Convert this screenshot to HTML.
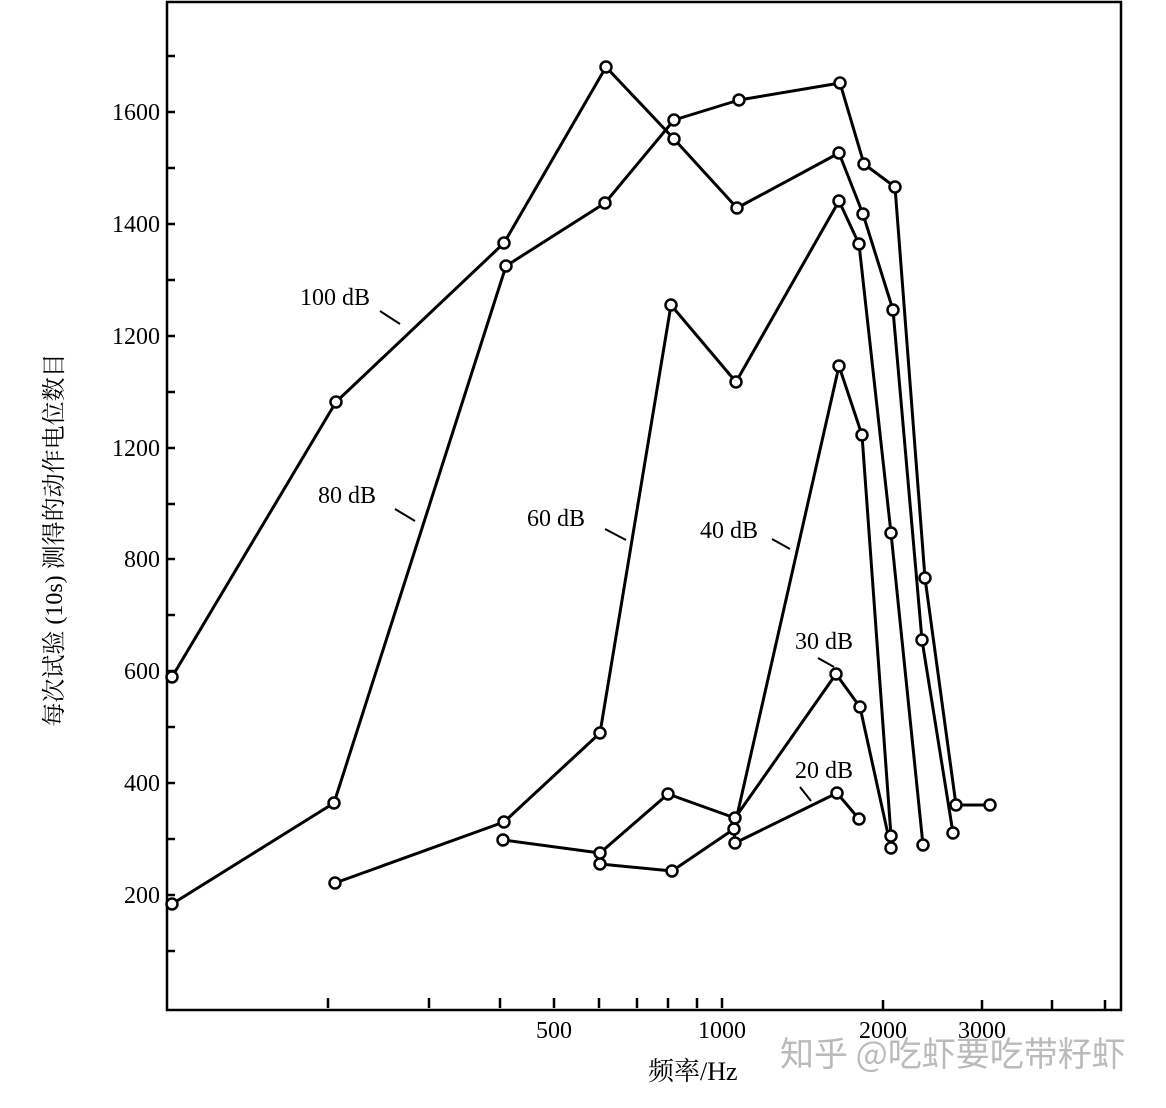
<!DOCTYPE html>
<html><head><meta charset="utf-8"><style>body{margin:0;background:#fff}</style></head><body>
<svg width="1166" height="1103" xmlns="http://www.w3.org/2000/svg" font-family="Liberation Serif, Noto Serif CJK SC, serif">
<rect width="1166" height="1103" fill="#fff"/>
<g stroke="#000" stroke-width="2.5" fill="none">
<path d="M167,2 H1121 V1010 H167 Z"/>
<path d="M167,112h8M167,224h8M167,336h8M167,448h8M167,559h8M167,671h8M167,783h8M167,895h8M167,56h8M167,168h8M167,280h8M167,392h8M167,504h8M167,615h8M167,727h8M167,839h8M167,951h8"/>
<path d="M328,1008v-10M429,1008v-10M500,1008v-10M554,1008v-10M599,1008v-10M637,1008v-10M668,1008v-10M697,1008v-10M722,1008v-10M883,1010v-10M982,1010v-10M1052,1010v-10M1105,1010v-10"/>
</g>
<g font-size="24" text-anchor="end">
<text x="160" y="120">1600</text><text x="160" y="232">1400</text><text x="160" y="344">1200</text><text x="160" y="456">1200</text><text x="160" y="567">800</text><text x="160" y="679">600</text><text x="160" y="791">400</text><text x="160" y="903">200</text>
</g>
<g font-size="24" text-anchor="middle">
<text x="554" y="1038">500</text><text x="722" y="1038">1000</text><text x="883" y="1038">2000</text><text x="982" y="1038">3000</text>
</g>
<text x="648" y="1080" font-size="26">频率/Hz</text>
<text transform="translate(62,540) rotate(-90)" font-size="24" text-anchor="middle">每次试验 (10s) 测得的动作电位数目</text>
<text x="780" y="1066" font-size="34" fill="#bbb" font-family="Noto Sans CJK SC, sans-serif">知乎 @吃虾要吃带籽虾</text>
<g font-size="24">
<text x="300" y="305">100 dB</text><text x="318" y="503">80 dB</text><text x="527" y="526">60 dB</text><text x="700" y="538">40 dB</text><text x="795" y="649">30 dB</text><text x="795" y="778">20 dB</text>
</g>
<g stroke="#000" stroke-width="2" fill="none">
<path d="M380,311l20,13M395,509l20,12M605,529l21,11M772,539l18,10M818,658l16,9M800,787l11,14"/>
</g>
<g stroke="#000" stroke-width="3" fill="none" stroke-linejoin="round">
<polyline points="172,677 336,402 504,243 606,67 674,139 737,208 839,153 863,214 893,310 922,640 953,833"/>
<polyline points="172,904 334,803 506,266 605,203 674,120 739,100 840,83 864,164 895,187 925,578 956,805 990,805"/>
<polyline points="335,883 504,822 600,733 671,305 736,382 839,201 859,244 891,533 923,845"/>
<polyline points="600,864 672,871 734,829 839,366 862,435 891,836"/>
<polyline points="503,840 600,853 668,794 735,818 836,674 860,707 891,848"/>
<polyline points="734,829 735,843 837,793 859,819"/>
</g>
<g stroke="#000" stroke-width="2.5" fill="#fff">
<circle cx="172" cy="677" r="5.5"/><circle cx="336" cy="402" r="5.5"/><circle cx="504" cy="243" r="5.5"/><circle cx="606" cy="67" r="5.5"/><circle cx="674" cy="139" r="5.5"/><circle cx="737" cy="208" r="5.5"/><circle cx="839" cy="153" r="5.5"/><circle cx="863" cy="214" r="5.5"/><circle cx="893" cy="310" r="5.5"/><circle cx="922" cy="640" r="5.5"/><circle cx="953" cy="833" r="5.5"/>
<circle cx="172" cy="904" r="5.5"/><circle cx="334" cy="803" r="5.5"/><circle cx="506" cy="266" r="5.5"/><circle cx="605" cy="203" r="5.5"/><circle cx="674" cy="120" r="5.5"/><circle cx="739" cy="100" r="5.5"/><circle cx="840" cy="83" r="5.5"/><circle cx="864" cy="164" r="5.5"/><circle cx="895" cy="187" r="5.5"/><circle cx="925" cy="578" r="5.5"/><circle cx="956" cy="805" r="5.5"/><circle cx="990" cy="805" r="5.5"/>
<circle cx="335" cy="883" r="5.5"/><circle cx="504" cy="822" r="5.5"/><circle cx="600" cy="733" r="5.5"/><circle cx="671" cy="305" r="5.5"/><circle cx="736" cy="382" r="5.5"/><circle cx="839" cy="201" r="5.5"/><circle cx="859" cy="244" r="5.5"/><circle cx="891" cy="533" r="5.5"/><circle cx="923" cy="845" r="5.5"/>
<circle cx="600" cy="864" r="5.5"/><circle cx="672" cy="871" r="5.5"/><circle cx="734" cy="829" r="5.5"/><circle cx="839" cy="366" r="5.5"/><circle cx="862" cy="435" r="5.5"/><circle cx="891" cy="836" r="5.5"/>
<circle cx="503" cy="840" r="5.5"/><circle cx="600" cy="853" r="5.5"/><circle cx="668" cy="794" r="5.5"/><circle cx="735" cy="818" r="5.5"/><circle cx="836" cy="674" r="5.5"/><circle cx="860" cy="707" r="5.5"/><circle cx="891" cy="848" r="5.5"/>
<circle cx="735" cy="843" r="5.5"/><circle cx="837" cy="793" r="5.5"/><circle cx="859" cy="819" r="5.5"/>
</g>
</svg>
</body></html>
